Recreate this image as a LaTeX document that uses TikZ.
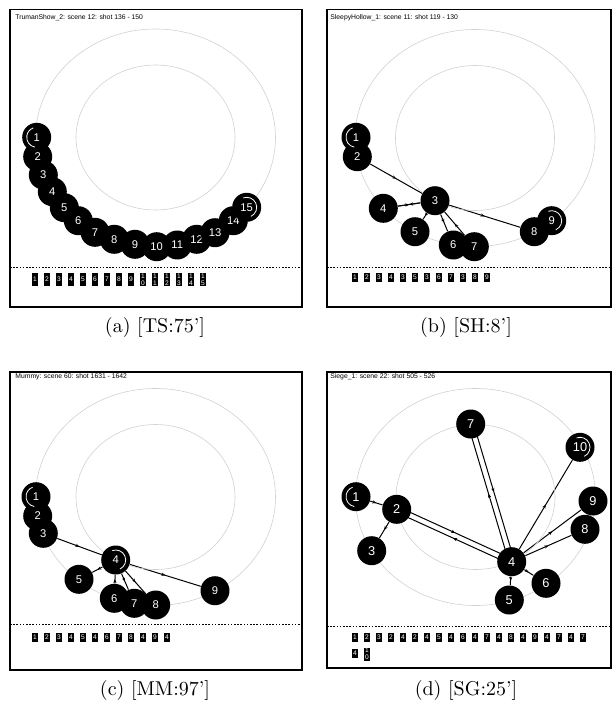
\documentclass[tikz,border=0pt]{standalone}
\usepackage{fontspec}
\newfontfamily\hv{Liberation Sans}
\usetikzlibrary{arrows.meta,decorations.markings,calc,backgrounds}
\begin{document}
\begin{tikzpicture}[x=0.5pt,y=-0.5pt,
  frame/.style={draw,line width=0.7pt},
  sepline/.style={draw,line width=0.4pt,dash pattern=on 0.8pt off 0.8pt},
  ring/.style={draw=black!18,line width=0.3pt},
  nd/.style={circle,fill=black,minimum size=14.5pt,inner sep=0pt,text=white,font=\hv\fontsize{5.6}{6}\selectfont},
  ndd/.style={nd,font=\hv\fontsize{6.4}{7}\selectfont},
  sbox/.style={fill=black,minimum width=3pt,minimum height=#1,inner sep=0pt,text=white,align=center,font=\hv\fontsize{3.3}{3.4}\selectfont},
  sbox/.default=4.5pt,
  hdr/.style={anchor=west,inner sep=0pt,font=\hv\fontsize{3.4}{4}\selectfont},
  captxt/.style={font=\fontsize{10}{12}\selectfont},
  edge/.style={line width=0.5pt,postaction={decorate},decoration={markings,mark=at position 0.5 with {\arrow{Stealth[length=2pt,width=1.6pt]}}}},
  startarc/.style={draw=white,line width=0.4pt},
]
\useasboundingbox (0,0) rectangle (613,706);

% ---------- frames ----------
\draw[frame] (10,9.5) rectangle (302,307);
\draw[frame] (327,9.5) rectangle (611,307);
\draw[frame] (10,372) rectangle (302,670);
\draw[frame] (327,372) rectangle (611,668);
\draw[sepline] (10,267.5) -- (302,267.5);
\draw[sepline] (327,267.5) -- (611,267.5);
\draw[sepline] (10,624) -- (302,624);
\draw[sepline] (327,626) -- (611,626);

% ---------- rings ----------
\foreach \cx/\cy in {155.5/137.5,475/138,155.5/497,475.5/497}{
  \draw[ring] (\cx,\cy) ellipse [x radius=120,y radius=108.5];
  \draw[ring] (\cx,\cy) ellipse [x radius=79.5,y radius=72.5];
}

% ---------- headers ----------
\node[hdr] (ha) at (15,18) {TrumanShow\_2: scene 12: shot 136 - 150};
\node[hdr] (hb) at (330,18) {SleepyHollow\_1: scene 11: shot 119 - 130};
\node[hdr] (hc) at (15,377) {Mummy: scene 60: shot 1631 - 1642};
\node[hdr] (hd) at (330,377) {Siege\_1: scene 22: shot 505 - 526};

% ---------- panel (a) ----------
\foreach \i/\x/\y in {1/36.7/137.3,2/37.7/156.7,3/43.3/175,4/52.3/191.7,5/64.3/207.7,6/78.3/220.7,7/95/232.3,8/114.3/239.3,9/135/244.3,10/156.7/246.7,11/177.3/245,12/196.7/239.3,13/215/232.7,14/233.3/220.7,15/246.7/207.3}{
  \node[nd] (a\i) at (\x,\y) {\i};
}
\draw[startarc] ([shift={(100:10)}]a1.center) arc[start angle=100,end angle=250,radius=10];
\draw[startarc] ([shift={(65:10)}]a15.center) arc[start angle=65,end angle=-110,radius=10];
\foreach \t [count=\k from 0] in {1,2,3,4,5,6,7,8,9,1\\0,1\\1,1\\2,1\\3,1\\4,1\\5}{
  \node[sbox=6.5pt] (sa\k) at (35+12*\k,279.5) {\t};
}

% ---------- panel (b) ----------
\foreach \i/\x/\y in {1/356/137.3,2/357.3/156.7,3/435/200.7,4/383.3/208.3,5/415/231.7,6/453.3/245,7/474.3/246.7,8/534.3/231.7,9/551.7/220.7}{
  \node[nd] (b\i) at (\x,\y) {\i};
}
\draw[startarc] ([shift={(100:10)}]b1.center) arc[start angle=100,end angle=250,radius=10];
\draw[startarc] ([shift={(65:10)}]b9.center) arc[start angle=65,end angle=-110,radius=10];
\begin{scope}[on background layer]
\draw[edge] (b2) -- (b3);
\draw[edge] (b3) -- (b4);
\draw[edge] (b4) -- (b3);
\draw[edge] (b3) -- (b5);
\draw[edge] (b3) -- (b6);
\draw[edge] (b7) -- (b3);
\draw[edge] (b3) -- (b8);
\end{scope}
\foreach \t [count=\k from 0] in {1,2,3,4,3,5,3,6,7,3,8,9}{
  \node[sbox] (sb\k) at (355+12*\k,277) {\t};
}

% ---------- panel (c) ----------
\foreach \i/\x/\y in {1/36/496.7,2/37.7/516,3/43.3/533.3,5/79/579.3,6/114.3/598.3,7/134.3/603.3,8/155.7/605,9/215/590.7,4/115.7/560}{
  \node[nd] (c\i) at (\x,\y) {\i};
}
\draw[startarc] ([shift={(100:10)}]c1.center) arc[start angle=100,end angle=250,radius=10];
\draw[startarc] ([shift={(65:10)}]c4.center) arc[start angle=65,end angle=-110,radius=10];
\begin{scope}[on background layer]
\draw[edge] (c3) -- (c4);
\draw[edge] (c4) -- (c5);
\draw[edge] (c6) -- (c4);
\draw[edge] (c4) -- (c7);
\draw[edge] (c4) -- (c8);
\draw[edge] (c4) -- (c9);
\end{scope}
\foreach \t [count=\k from 0] in {1,2,3,4,5,4,6,7,8,4,9,4}{
  \node[sbox] (sc\k) at (35+12*\k,637.5) {\t};
}

% ---------- panel (d) ----------
\foreach \i/\x/\y in {1/356/496.7,2/396.7/509.3,3/371.7/550.7,4/511.7/561.7,5/509.3/600,6/546/583.3,7/470.7/424,8/585/529.3,9/593/501,10/580/447.3}{
  \node[ndd] (d\i) at (\x,\y) {\i};
}
\draw[startarc] ([shift={(100:10)}]d1.center) arc[start angle=100,end angle=250,radius=10];
\draw[startarc] ([shift={(65:10)}]d10.center) arc[start angle=65,end angle=-110,radius=10];
\begin{scope}[on background layer]
\draw[edge] (d1) -- (d2);
\draw[edge] (d2) -- (d3);
\draw[edge] ($(d2)!1.4pt!90:(d4)$) -- ($(d4)!1.4pt!-90:(d2)$);
\draw[edge] ($(d4)!1.4pt!90:(d2)$) -- ($(d2)!1.4pt!-90:(d4)$);
\draw[edge] (d4) -- (d5);
\draw[edge] (d4) -- (d6);
\draw[edge] ($(d4)!1.4pt!90:(d7)$) -- ($(d7)!1.4pt!-90:(d4)$);
\draw[edge] ($(d7)!1.4pt!90:(d4)$) -- ($(d4)!1.4pt!-90:(d7)$);
\draw[edge] (d4) -- (d8);
\draw[edge] (d4) -- (d9);
\draw[edge] (d4) -- (d10);
\end{scope}
\foreach \t [count=\k from 0] in {1,2,3,2,4,2,4,5,4,6,4,7,4,8,4,9,4,7,4,7}{
  \node[sbox] (sd\k) at (355+12*\k,637.5) {\t};
}
\node[sbox] (sd20) at (355,653) {4};
\node[sbox=6.5pt] (sd21) at (367,654) {1\\0};

% ---------- captions ----------
\node[captxt] (capa) at (155,327) {(a) [TS:75']};
\node[captxt] (capb) at (466,327) {(b) [SH:8']};
\node[captxt] (capc) at (155,690) {(c) [MM:97']};
\node[captxt] (capd) at (466,690) {(d) [SG:25']};
\end{tikzpicture}
\end{document}
